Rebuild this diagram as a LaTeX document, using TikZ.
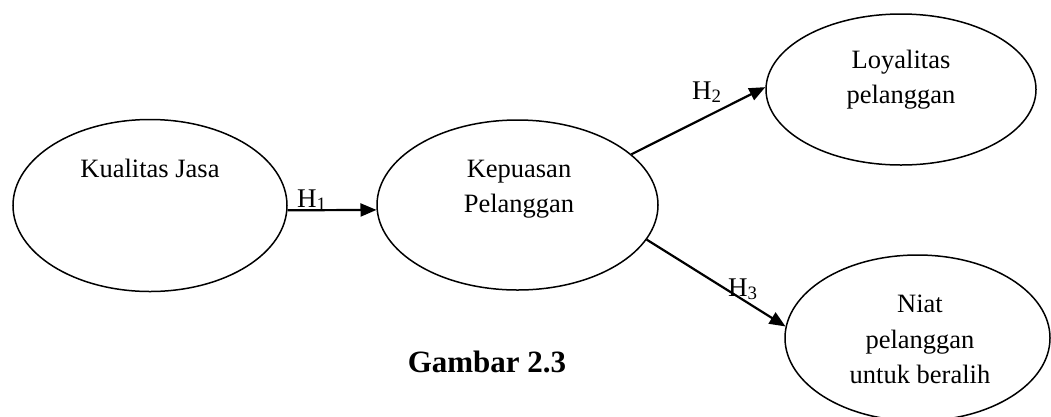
\documentclass[tikz,border=0pt]{standalone}
\usepackage{fontspec}
\setmainfont{Liberation Serif}
\usetikzlibrary{arrows.meta,shapes.geometric}
\begin{document}
\begin{tikzpicture}[x=1pt,y=-1pt,
  oval/.style={draw,ellipse,line width=1.5pt,inner sep=0pt},
  lbl/.style={anchor=base,inner sep=0pt,font=\fontsize{26.5}{35}\selectfont},
  hyp/.style={anchor=base west,inner sep=0pt,font=\fontsize{27}{32}\selectfont},
  arr/.style={line width=2.2pt,-{Triangle[length=16pt,width=13pt]}}]
\useasboundingbox (0,0) rectangle (1051,416);
% ellipses
\node[oval,minimum width=274pt,minimum height=172pt] (e1) at (150,205.5) {};
\node[oval,minimum width=281pt,minimum height=170pt] (e2) at (517.5,205) {};
\node[oval,minimum width=270pt,minimum height=151pt] (e3) at (901,89.5) {};
\node[oval,minimum width=265pt,minimum height=166pt] (e4) at (917.5,338) {};
% texts
\node[lbl] (t1) at (150,177) {Kualitas Jasa};
\node[lbl] (t2a) at (519,177) {Kepuasan};
\node[lbl] (t2b) at (519,212) {Pelanggan};
\node[lbl] (t3a) at (901,68) {Loyalitas};
\node[lbl] (t3b) at (901,103) {pelanggan};
\node[lbl] (t4a) at (920,312) {Niat};
\node[lbl] (t4b) at (920,348) {pelanggan};
\node[lbl] (t4c) at (920,383) {untuk beralih};
% arrows
\draw[arr] (e1.-2) -- (e2.-178);
\draw[arr] (e2.24.5) -- (e3.179);
\draw[arr] (e2.-15.4) -- (e4.175.7);
% hypothesis labels
\node[hyp] (h1) at (297,207) {H\textsubscript{1}};
\node[hyp] (h2) at (692,99) {H\textsubscript{2}};
\node[hyp] (h3) at (728,296) {H\textsubscript{3}};
% caption
\node[anchor=base,inner sep=0pt,font=\fontsize{31}{36}\selectfont\bfseries] (cap) at (487,372) {Gambar 2.3};
\end{tikzpicture}
\end{document}
